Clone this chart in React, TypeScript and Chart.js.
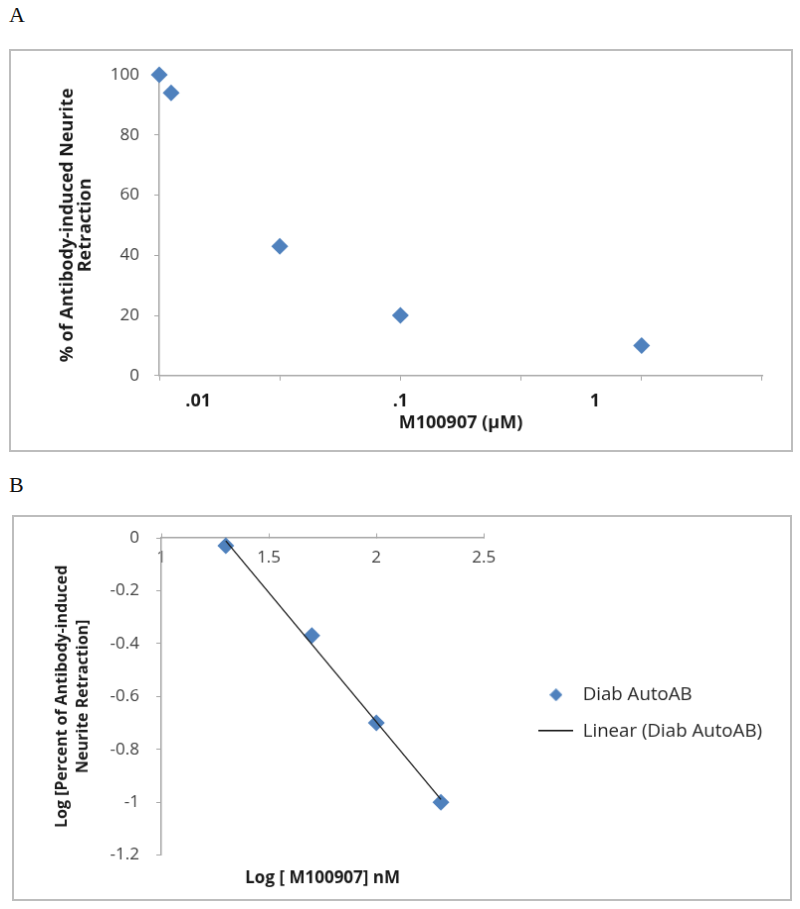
import React, { useEffect, useRef } from 'react';
import { Chart, registerables } from 'chart.js';

Chart.register(...registerables);

const FONT = '"Open Sans", "Liberation Sans", sans-serif';
const SERIF = '"Liberation Serif", "DejaVu Serif", serif';
const BLUE = '#4f81bd';
const AXIS = '#a6a6a6';
const TICK_TEXT = '#404040';
const TITLE_TEXT = '#1a1a1a';

// ---------- Panel A data ----------
const aConcentrationUM = [0.01, 0.0112, 0.0316, 0.1, 1.0];
const aRetractionPct = [100, 94, 43, 20, 10];
const aAxisTickValues = [0.01, 0.0316, 0.1, 0.316, 1, 3.162];
const aTickLabelValues = [0.0145, 0.1, 0.64];
const aTickLabels = ['.01', '.1', '1'];
const aYTicks = [0, 20, 40, 60, 80, 100];

// ---------- Panel B data ----------
const bLogConcentration = [1.3, 1.7, 2.0, 2.3];
const bLogRetraction = [-0.03, -0.37, -0.7, -1.0];
const bXTicks = [1, 1.5, 2, 2.5];
const bYTicks = [0, -0.2, -0.4, -0.6, -0.8, -1, -1.2];
const bSeriesName = 'Diab AutoAB';
const bTrendName = 'Linear (Diab AutoAB)';

function fitLine(xs: number[], ys: number[]) {
  const n = xs.length;
  const mx = xs.reduce((a, b) => a + b, 0) / n;
  const my = ys.reduce((a, b) => a + b, 0) / n;
  let sxy = 0;
  let sxx = 0;
  for (let i = 0; i < n; i++) {
    sxy += (xs[i] - mx) * (ys[i] - my);
    sxx += (xs[i] - mx) * (xs[i] - mx);
  }
  const slope = sxy / sxx;
  return { slope, intercept: my - slope * mx };
}

function makeDiamondIcon() {
  const c = document.createElement('canvas');
  c.width = 13;
  c.height = 13;
  const ctx = c.getContext('2d')!;
  ctx.fillStyle = BLUE;
  ctx.beginPath();
  ctx.moveTo(6.5, 0);
  ctx.lineTo(13, 6.5);
  ctx.lineTo(6.5, 13);
  ctx.lineTo(0, 6.5);
  ctx.closePath();
  ctx.fill();
  return c;
}

function makeLineIcon() {
  const c = document.createElement('canvas');
  c.width = 35;
  c.height = 2;
  const ctx = c.getContext('2d')!;
  ctx.fillStyle = '#111111';
  ctx.fillRect(0, 0, 35, 1.3);
  return c;
}

function ChartA() {
  const ref = useRef<HTMLCanvasElement>(null);
  useEffect(() => {
    const chart = new Chart(ref.current!, {
      type: 'scatter',
      data: {
        datasets: [
          {
            label: 'Retraction',
            data: aConcentrationUM.map((x, i) => ({ x, y: aRetractionPct[i] })),
            xAxisID: 'x',
            yAxisID: 'y',
            pointStyle: 'rectRot',
            pointRadius: 8.5,
            pointHoverRadius: 8.5,
            backgroundColor: BLUE,
            borderColor: BLUE,
            borderWidth: 0,
            clip: false,
          } as any,
        ],
      },
      options: {
        responsive: false,
        animation: false,
        events: [],
        layout: { padding: { left: 0, top: 24, right: 29, bottom: 16 } },
        plugins: { legend: { display: false }, tooltip: { enabled: false } },
        scales: {
          x: {
            type: 'logarithmic',
            axis: 'x',
            position: 'bottom',
            min: 0.01,
            max: 3.1623,
            afterBuildTicks: (s: any) => {
              s.ticks = aAxisTickValues.map((value) => ({ value }));
            },
            ticks: { display: false },
            grid: { display: true, drawOnChartArea: false, drawTicks: true, tickLength: 5, color: AXIS },
            border: { display: true, color: AXIS, width: 1.5 },
          },
          x2: {
            type: 'logarithmic',
            axis: 'x',
            position: 'bottom',
            weight: 1,
            min: 0.01,
            max: 3.1623,
            afterBuildTicks: (s: any) => {
              s.ticks = aTickLabelValues.map((value) => ({ value }));
            },
            ticks: {
              autoSkip: false,
              maxRotation: 0,
              padding: 10,
              color: TITLE_TEXT,
              font: { family: FONT, size: 18, weight: 'bold' },
              callback: (_v: any, i: number) => aTickLabels[i],
            },
            grid: { display: false, drawTicks: false },
            border: { display: false },
            title: {
              display: true,
              text: 'M100907 (μM)',
              color: TITLE_TEXT,
              font: { family: FONT, size: 18, weight: 'bold' },
              padding: { top: -9, bottom: 0 },
            },
          },
          y: {
            type: 'linear',
            axis: 'y',
            position: 'left',
            min: 0,
            max: 100,
            afterBuildTicks: (s: any) => {
              s.ticks = aYTicks.map((value) => ({ value }));
            },
            afterFit: (s: any) => {
              s.width = 149;
              s.paddingTop = 0;
              s.paddingBottom = 0;
            },
            ticks: {
              padding: 15,
              color: TICK_TEXT,
              font: { family: FONT, size: 17 },
              callback: (v: any) => String(v),
            },
            grid: { display: true, drawOnChartArea: false, drawTicks: true, tickLength: 5, color: AXIS },
            border: { display: true, color: AXIS, width: 1.5 },
            title: {
              display: true,
              text: ['% of Antibody-induced Neurite', 'Retraction'],
              color: TITLE_TEXT,
              font: { family: FONT, size: 18, weight: 'bold', lineHeight: 1.0 },
              padding: { top: 48, bottom: 0 },
            },
          },
        },
      } as any,
    });
    return () => chart.destroy();
  }, []);
  return (
    <canvas
      ref={ref}
      width={784}
      height={403}
      style={{ position: 'absolute', left: 9, top: 49, border: '2px solid #bdbdbd', display: 'block' }}
    />
  );
}

function ChartB() {
  const ref = useRef<HTMLCanvasElement>(null);
  useEffect(() => {
    const { slope, intercept } = fitLine(bLogConcentration, bLogRetraction);
    const xMin = Math.min(...bLogConcentration);
    const xMax = Math.max(...bLogConcentration);
    const diamondIcon = makeDiamondIcon();
    const lineIcon = makeLineIcon();
    const chart = new Chart(ref.current!, {
      type: 'scatter',
      data: {
        datasets: [
          {
            label: bSeriesName,
            data: bLogConcentration.map((x, i) => ({ x, y: bLogRetraction[i] })),
            xAxisID: 'x',
            yAxisID: 'y',
            pointStyle: 'rectRot',
            pointRadius: 8.5,
            pointHoverRadius: 8.5,
            backgroundColor: BLUE,
            borderColor: BLUE,
            borderWidth: 0,
            clip: false,
            order: 1,
          } as any,
          {
            label: bTrendName,
            data: [xMin, xMax].map((x) => ({ x, y: intercept + slope * x })),
            xAxisID: 'x',
            yAxisID: 'y',
            showLine: true,
            pointRadius: 0,
            pointHoverRadius: 0,
            borderColor: '#1a1a1a',
            backgroundColor: '#1a1a1a',
            borderWidth: 1.3,
            clip: false,
            order: 0,
          } as any,
        ],
      },
      options: {
        responsive: false,
        animation: false,
        events: [],
        layout: { padding: { left: 0, top: 21, right: 18, bottom: 11 } },
        plugins: {
          tooltip: { enabled: false },
          legend: {
            display: true,
            position: 'right',
            align: 'center',
            maxWidth: 330,
            labels: {
              usePointStyle: true,
              pointStyleWidth: 35,
              padding: 18,
              color: '#262626',
              font: { family: FONT, size: 18.7 },
              sort: (a: any, b: any) => a.datasetIndex - b.datasetIndex,
              generateLabels: (c: any) => {
                const items = (Chart.defaults.plugins.legend.labels as any).generateLabels(c);
                return items.map((it: any) => ({
                  ...it,
                  pointStyle: it.datasetIndex === 0 ? diamondIcon : lineIcon,
                }));
              },
            },
          },
        },
        scales: {
          x: {
            type: 'linear',
            axis: 'x',
            position: { y: 0 },
            min: 1,
            max: 2.5,
            afterBuildTicks: (s: any) => {
              s.ticks = bXTicks.map((value) => ({ value }));
            },
            ticks: {
              autoSkip: false,
              maxRotation: 0,
              padding: 15,
              color: TICK_TEXT,
              font: { family: FONT, size: 17 },
              callback: (v: any) => String(v),
            },
            grid: { display: true, drawOnChartArea: false, drawTicks: true, tickLength: -5, color: AXIS },
            border: { display: true, color: AXIS, width: 1.5 },
          },
          y: {
            type: 'linear',
            axis: 'y',
            position: 'left',
            min: -1.2,
            max: 0,
            afterBuildTicks: (s: any) => {
              s.ticks = bYTicks.map((value) => ({ value }));
            },
            afterFit: (s: any) => {
              s.width = 148;
              s.paddingTop = 0;
              s.paddingBottom = 0;
            },
            ticks: {
              padding: 17,
              color: TICK_TEXT,
              font: { family: FONT, size: 17 },
              callback: (v: any) => String(v),
            },
            grid: { display: true, drawOnChartArea: false, drawTicks: true, tickLength: 5, color: AXIS },
            border: { display: true, color: AXIS, width: 1.5 },
            title: {
              display: true,
              text: ['Log [Percent of Antibody-induced', 'Neurite Retraction]'],
              color: TITLE_TEXT,
              font: { family: FONT, size: 16, weight: 'bold', lineHeight: 1.3 },
              padding: { top: 38, bottom: 0 },
            },
          },
          xT: {
            type: 'linear',
            axis: 'x',
            position: 'bottom',
            min: 1,
            max: 2.5,
            ticks: { display: false },
            grid: { display: false, drawTicks: false },
            border: { display: false },
            title: {
              display: true,
              text: 'Log [ M100907] nM',
              color: TITLE_TEXT,
              font: { family: FONT, size: 17, weight: 'bold' },
              padding: { top: 13, bottom: 0 },
            },
          },
          yPad: {
            type: 'linear',
            axis: 'y',
            position: 'right',
            ticks: { display: false },
            grid: { display: false, drawTicks: false },
            border: { display: false },
            afterFit: (s: any) => {
              s.width = 37;
            },
          },
        },
      } as any,
    });
    return () => chart.destroy();
  }, []);
  return (
    <canvas
      ref={ref}
      width={780}
      height={386}
      style={{ position: 'absolute', left: 12, top: 515, border: '2px solid #bdbdbd', display: 'block' }}
    />
  );
}

export default function App() {
  return (
    <div
      style={{
        position: 'absolute',
        left: 0,
        top: 0,
        width: 800,
        height: 909,
        background: '#ffffff',
        overflow: 'hidden',
      }}
    >
      <div
        style={{
          position: 'absolute',
          left: 9,
          top: 4,
          fontFamily: SERIF,
          fontSize: 22,
          lineHeight: '22px',
          color: '#111',
        }}
      >
        A
      </div>
      <ChartA />
      <div
        style={{
          position: 'absolute',
          left: 9,
          top: 474,
          fontFamily: SERIF,
          fontSize: 22,
          lineHeight: '22px',
          color: '#111',
        }}
      >
        B
      </div>
      <ChartB />
    </div>
  );
}
